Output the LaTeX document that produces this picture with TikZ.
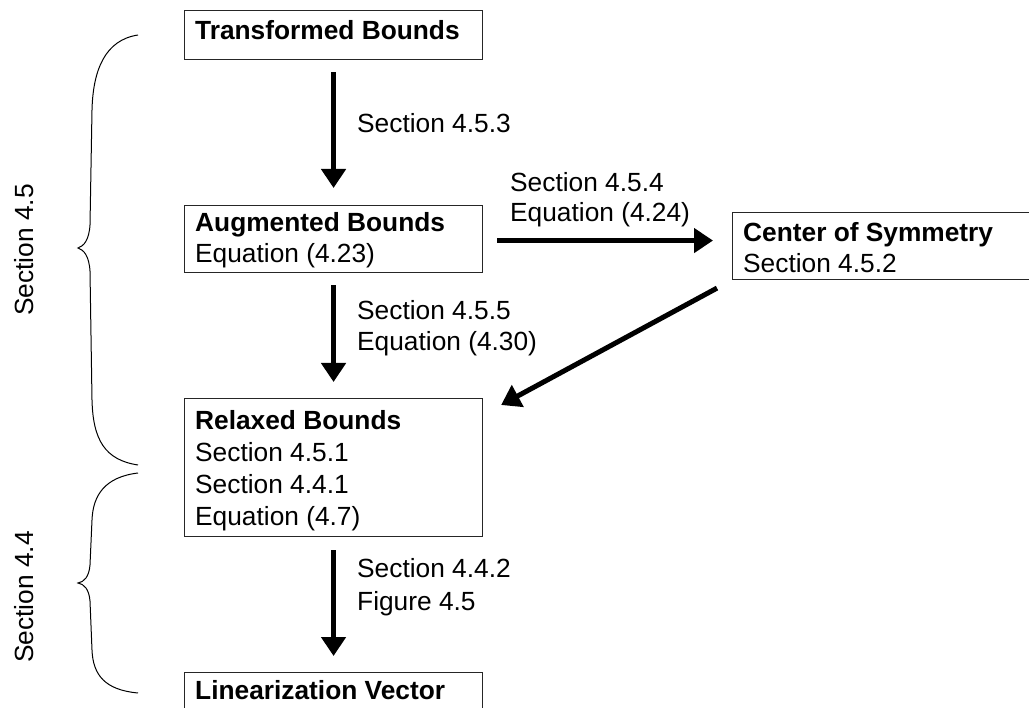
\documentclass[tikz,border=0pt]{standalone}
\usepackage{fontspec}
\setmainfont{Liberation Sans}
\usetikzlibrary{arrows.meta}
\begin{document}
\begin{tikzpicture}[x=1pt,y=-1pt,
  box/.style={draw=black!85, line width=1.1pt, minimum width=298pt, anchor=north west, inner sep=0pt},
  txt/.style={anchor=base west, inner sep=0pt, font=\fontsize{26.3}{31}\selectfont},
  side/.style={anchor=base, inner sep=0pt, rotate=90, font=\fontsize{26.3}{31}\selectfont},
  flow/.style={line width=5pt, -{Triangle[length=19pt,width=24pt]}},
  brace/.style={line width=1pt}]
\clip (0,0) rectangle (1029,708);

% boxes
\node[box, minimum height=49pt] (tb) at (184,10) {};
\node[box, minimum height=67pt] (ab) at (184,205) {};
\node[box, minimum height=138pt] (rb) at (184,398) {};
\node[box, minimum height=60pt] (lv) at (184,672) {};
\node[box, minimum width=320pt, minimum height=67pt] (cs) at (732,212) {};

% box contents
\node[txt] (tb1) at (195,40) {\bfseries Transformed Bounds};
\node[txt] (ab1) at (195,232) {\bfseries Augmented Bounds};
\node[txt] (ab2) at (195,263) {Equation (4.23)};
\node[txt] (rb1) at (195,430) {\bfseries Relaxed Bounds};
\node[txt] (rb2) at (195,462) {Section 4.5.1};
\node[txt] (rb3) at (195,494) {Section 4.4.1};
\node[txt] (rb4) at (195,526) {Equation (4.7)};
\node[txt] (lv1) at (195,699) {\bfseries Linearization Vector};
\node[txt] (cs1) at (743,242) {\bfseries Center of Symmetry};
\node[txt] (cs2) at (743,273) {Section 4.5.2};

% connectors
\draw[flow] ([yshift=-12pt]tb.south) -- ([yshift=17pt]ab.north);
\draw[flow] ([yshift=-12pt]ab.south) -- ([yshift=16pt]rb.north);
\draw[flow] ([yshift=-13pt]rb.south) -- ([yshift=16pt]lv.north);
\draw[flow] ([xshift=14pt,yshift=-1.5pt]ab.east) -- ([xshift=-19pt,yshift=5.5pt]cs.west);
\draw[flow] ([xshift=-15pt,yshift=-8pt]cs.south west) -- ([xshift=18pt,yshift=-7pt]rb.north east);

% connector labels
\node[txt] (l1) at (357,133) {Section 4.5.3};
\node[txt] (l2a) at (510,192) {Section 4.5.4};
\node[txt] (l2b) at (510,222) {Equation (4.24)};
\node[txt] (l3a) at (357,320) {Section 4.5.5};
\node[txt] (l3b) at (357,351) {Equation (4.30)};
\node[txt] (l4a) at (357,578) {Section 4.4.2};
\node[txt] (l4b) at (357,610) {Figure 4.5};

% section braces
\draw[brace] (138,35) .. controls (105,40) and (93,70) .. (92,110) -- (90,225)
  .. controls (89,240) and (84,246) .. (78,248)
  .. controls (84,250) and (89,256) .. (90,271) -- (92,400)
  .. controls (93,440) and (105,460) .. (138,465);
\draw[brace] (138,473) .. controls (105,477) and (93,495) .. (92,520) -- (90,565)
  .. controls (89,577) and (84,582) .. (78,583)
  .. controls (84,584) and (89,589) .. (90,601) -- (92,650)
  .. controls (93,675) and (105,690) .. (138,693);
\node[side] (s45) at (33,250) {Section 4.5};
\node[side] (s44) at (33,597) {Section 4.4};
\end{tikzpicture}
\end{document}
